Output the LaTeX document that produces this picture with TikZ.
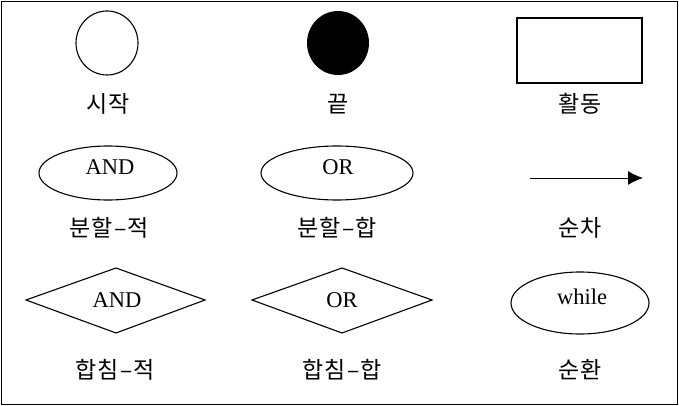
\documentclass[tikz,border=0pt]{standalone}
\usepackage{fontspec}
\setmainfont{Liberation Serif}
\newfontfamily\kr[LetterSpace=6]{Noto Sans CJK KR}
\usetikzlibrary{shapes.geometric,arrows.meta}
\begin{document}
\begin{tikzpicture}[x=1pt,y=-1pt,line width=1.1pt,
  krlab/.style={font=\kr\fontsize{23}{24}\selectfont,inner sep=0pt},
  entxt/.style={font=\fontsize{22.5}{24}\selectfont,inner sep=0pt}]
\useasboundingbox (0,0) rectangle (679,406);
\draw[line width=1pt] (1.5,1.5) rectangle (677,404);
% row 1
\draw (107,43) ellipse [x radius=31,y radius=32];
\fill (338,43) ellipse [x radius=31,y radius=32];
\draw (517,18) rectangle (642,83);
\node[krlab] (l1) at (108,104) {시작};
\node[krlab] (l2) at (338,104) {끝};
\node[krlab] (l3) at (580,104) {활동};
% row 2
\draw (108,173) ellipse [x radius=69,y radius=27];
\node[entxt] (t1) at (110,167) {AND};
\draw (337,173) ellipse [x radius=76,y radius=27];
\node[entxt] (t2) at (338,167) {OR};
\coordinate (a1) at (530,178);
\coordinate (a2) at (643,178);
\draw[line width=1pt,-{Latex[length=15pt,width=14pt]}] (a1) -- (a2);
\node[krlab] (l4) at (109,228) {분할–적};
\node[krlab] (l5) at (337,228) {분할–합};
\node[krlab] (l6) at (580,228) {순차};
% row 3
\draw (26,300) -- (116,268) -- (205,300) -- (116,333) -- cycle;
\node[entxt] (t3) at (117,300) {AND};
\draw (252,300) -- (342,268) -- (432,300) -- (342,333) -- cycle;
\node[entxt] (t4) at (342,300) {OR};
\draw (580,303) ellipse [x radius=69,y radius=31];
\node[entxt] (t5) at (582,297) {while};
\node[krlab] (l7) at (115,370) {합침–적};
\node[krlab] (l8) at (342,370) {합침–합};
\node[krlab] (l9) at (580,370) {순환};
\end{tikzpicture}
\end{document}
